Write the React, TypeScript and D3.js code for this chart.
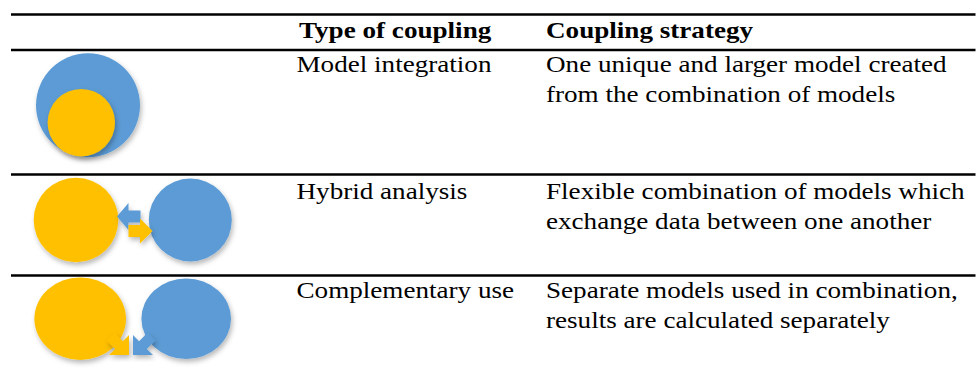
import React, { useRef, useEffect } from 'react';
import * as d3 from 'd3';

// table text
const headers = ['Type of coupling', 'Coupling strategy'];
const couplingTypes = ['Model integration', 'Hybrid analysis', 'Complementary use'];
const strategies = [
  ['One unique and larger model created', 'from the combination of models'],
  ['Flexible combination of models which', 'exchange data between one another'],
  ['Separate models used in combination,', 'results are calculated separately'],
];

// rule positions (y), row text baselines
const ruleYs = [14.5, 50, 174.5, 275.5];
const rowBaselines = [72.3, 198.7, 297.7];

const BLUE = '#5b9bd5';
const YELLOW = '#ffc000';

// icon shapes per row: [cx, cy, rx, ry, colour]
const icons: [number, number, number, number, string][][] = [
  [
    [88, 105.3, 52, 52, BLUE],
    [81.3, 122.7, 33.7, 33.7, YELLOW],
  ],
  [
    [76, 220, 42.3, 42.3, YELLOW],
    [190.3, 220, 41.5, 41.5, BLUE],
  ],
  [
    [80.2, 318.7, 45.8, 41.3, YELLOW],
    [186.2, 318.7, 44.8, 40.3, BLUE],
  ],
];

// arrows: [tipX, tipY, angleDeg, length, headLen, headHalf, shaftHalf, colour]
const arrows: [number, number, number, number, number, number, number, string][] = [
  [117, 216.5, 180, 23.5, 11.5, 13.5, 6, BLUE],
  [152.5, 231, 0, 24, 12.5, 12.5, 6, YELLOW],
  [129, 355, 45, 26, 14.1, 14.1, 5.5, YELLOW],
  [133, 355, 135, 26, 14.1, 14.1, 5.5, BLUE],
];

const FONT = 'Liberation Serif, Tinos, Times New Roman, DejaVu Serif, serif';
const STRETCH = 1.13; // the source text is set a little wide

const App = () => {
  const ref = useRef<SVGSVGElement>(null);

  useEffect(() => {
    const svg = d3.select(ref.current);
    svg.selectAll('*').remove();

    const defs = svg.append('defs');
    defs.append('filter')
      .attr('id', 'shadow')
      .attr('x', '-30%').attr('y', '-30%')
      .attr('width', '160%').attr('height', '160%')
      .append('feDropShadow')
      .attr('dx', 1.5).attr('dy', 3)
      .attr('stdDeviation', 2.5)
      .attr('flood-color', '#000')
      .attr('flood-opacity', 0.28);

    // rules
    svg.append('g')
      .selectAll('line')
      .data(ruleYs)
      .join('line')
      .attr('x1', 11).attr('x2', 975.5)
      .attr('y1', d => d).attr('y2', d => d)
      .attr('stroke', '#000')
      .attr('stroke-width', 2.7);

    const colX = [296.5, 546];
    const textG = svg.append('g')
      .style('font-family', FONT)
      .style('font-size', '24px')
      .attr('fill', '#000');

    const put = (g: any, s: string, x: number, y: number) =>
      g.append('text')
        .attr('transform', `translate(${x},${y}) scale(${STRETCH},1)`)
        .text(s);

    // header
    const head = textG.append('g').style('font-weight', 'bold');
    headers.forEach((h, i) => put(head, h, colX[i] + (i === 0 ? 2.5 : 0), 37.5));

    // body text
    couplingTypes.forEach((t, i) => put(textG, t, colX[0], rowBaselines[i]));
    strategies.forEach((lines, i) =>
      lines.forEach((s, j) => put(textG, s, colX[1], rowBaselines[i] + j * 30)));

    // icons
    const iconG = svg.append('g');
    const line = d3.line();
    const arrowPath = (a: typeof arrows[number]) => {
      const [tx, ty, ang, L, h, hw, sw] = a;
      const t = (ang * Math.PI) / 180;
      const c = Math.cos(t), s = Math.sin(t);
      const pts: [number, number][] = [
        [0, 0], [-h, -hw], [-h, -sw], [-L, -sw], [-L, sw], [-h, sw], [-h, hw],
      ];
      return line(pts.map(([x, y]) => [tx + x * c - y * s, ty + x * s + y * c]) as [number, number][]) + 'Z';
    };

    icons.forEach(row => {
      iconG.append('g')
        .selectAll('ellipse')
        .data(row)
        .join('ellipse')
        .attr('cx', d => d[0]).attr('cy', d => d[1])
        .attr('rx', d => d[2]).attr('ry', d => d[3])
        .attr('fill', d => d[4])
        .attr('filter', 'url(#shadow)');
    });

    iconG.append('g')
      .selectAll('path')
      .data(arrows)
      .join('path')
      .attr('d', arrowPath)
      .attr('fill', d => d[7])
      .attr('filter', 'url(#shadow)');
  }, []);

  return (
    <div>
      <svg
        ref={ref}
        width={980}
        height={368}
        style={{ position: 'absolute', left: 0, top: 0, background: '#fff' }}
      />
    </div>
  );
};

export default App;
